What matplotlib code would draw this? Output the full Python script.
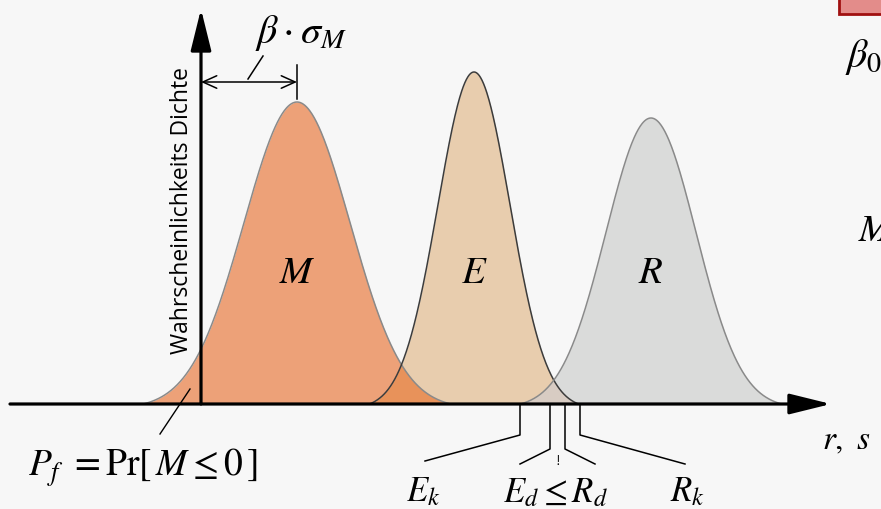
import numpy as np
import matplotlib
matplotlib.use("Agg")
import matplotlib.pyplot as plt
from matplotlib.patches import FancyArrowPatch, Rectangle

plt.rcParams["mathtext.fontset"] = "stix"

# ------------------------
# Distributions (x: r/s axis, y: density, arbitrary units)
# ------------------------
dist_names = ["M", "E", "R"]
dist_means = [96, 273, 450]
dist_sigmas = [53, 36, 45]
dist_peaks = [302, 332, 286]
dist_fill = ["#EDA178", "#E8CDAE", "#DADBDA"]
dist_edge = ["#8A8A8A", "#3C3C3C", "#8A8A8A"]

# characteristic / design values on the r,s axis
val_names = [r"$E_k$", r"$E_d$", r"$R_d$", r"$R_k$"]
val_x = [319, 349, 364, 379]

BG = "#F7F7F7"
SPAN = 2.9  # tails are brought down to zero at this many sigmas


def density(x, mu, sig, peak):
    g = np.exp(-0.5 * ((x - mu) / sig) ** 2)
    g0 = np.exp(-0.5 * SPAN ** 2)
    y = peak * (g - g0) / (1 - g0)
    return np.clip(y, 0, None)


fig = plt.figure(figsize=(8.81, 5.10), dpi=100, facecolor=BG)
ax = fig.add_axes([0, 0, 1, 1])
ax.set_facecolor(BG)
ax.set_xlim(-201, 680)
ax.set_ylim(-105, 405)
ax.axis("off")

curves = []
for name, mu, sig, pk, fc in zip(dist_names, dist_means, dist_sigmas, dist_peaks, dist_fill):
    x = np.linspace(mu - SPAN * sig, mu + SPAN * sig, 400)
    y = density(x, mu, sig, pk)
    ax.fill_between(x, 0, y, color=fc, lw=0, zorder=1)
    curves.append((x, y))

# overlapping tails get a darker tint
xs = np.linspace(-200, 680, 3000)
dens = [density(xs, m, s, p) for m, s, p in zip(dist_means, dist_sigmas, dist_peaks)]
ax.fill_between(xs, 0, np.minimum(dens[0], dens[1]), color="#E8925A", lw=0, zorder=2)
ax.fill_between(xs, 0, np.minimum(dens[1], dens[2]), color="#D8CCC3", lw=0, zorder=2)

for (x, y), ec in zip(curves, dist_edge):
    ax.plot(x, y, color=ec, lw=1.1, zorder=3)

for name, mu in zip(dist_names, dist_means):
    ax.text(mu, 133, rf"${name}$", fontsize=28, ha="center", va="center", zorder=4)

# axes arrows
arrow_kw = dict(arrowstyle="-|>,head_length=1.7,head_width=0.42", color="black",
                lw=2.3, mutation_scale=15, shrinkA=0, shrinkB=0, zorder=5)
ax.add_patch(FancyArrowPatch((-191, 0), (630, 0), **arrow_kw))
ax.add_patch(FancyArrowPatch((0, 0), (0, 395), **arrow_kw))

ax.text(-19, 194, "Wahrscheinlichkeits Dichte", rotation=90, ha="center", va="center",
        fontsize=16.5, family="Open Sans", zorder=5)

# beta * sigma_M dimension
mu_m = dist_means[0]
ax.add_patch(FancyArrowPatch((0, 322), (mu_m, 322),
                             arrowstyle="<->,head_length=1.0,head_width=0.45",
                             mutation_scale=10, color="black", lw=1.1,
                             shrinkA=0, shrinkB=0, zorder=5))
ax.plot([mu_m, mu_m], [305, 339], color="black", lw=1.1, zorder=5)
ax.plot([47, 62], [325, 348], color="black", lw=1.1, zorder=5)
ax.text(100, 372, r"$\beta \cdot \sigma_M$", fontsize=29, ha="center", va="center")

# failure probability
ax.plot([-41, -11], [-30, 15], color="black", lw=1.0, zorder=5)
ax.text(-173, -63, r"$P_f\ = \mathrm{Pr}\left[\,M \leq 0\,\right]$", fontsize=27,
        ha="left", va="center")

# leaders to characteristic and design values
bend = [-31, -45, -45, -31]
tips = [224, 319, 394, 484]
tip_y = [-57, -60, -60, -60]
for vx, by, tx, ty in zip(val_x, bend, tips, tip_y):
    ax.plot([vx, vx, tx], [0, by, ty], color="black", lw=1.1, zorder=5)

ax.text(222, -86, r"$E_k$", fontsize=25, ha="center", va="center")
ax.text(354, -87, r"$E_d \leq R_d$", fontsize=25, ha="center", va="center")
ax.text(357, -57, "!", fontsize=10, ha="center", va="center", family="Liberation Serif")
ax.text(486, -86, r"$R_k$", fontsize=25, ha="center", va="center")
ax.text(621, -35, r"$r,\ s$", fontsize=24, ha="left", va="center")

# right-hand margin (cut off)
ax.add_patch(Rectangle((638, 390), 60, 25, facecolor="#E38C8A", edgecolor="#A01010",
                       lw=2, zorder=5))
ax.text(644, 348, r"$\beta_0$", fontsize=29, ha="left", va="center")
ax.text(657, 175, r"$M$", fontsize=28, ha="left", va="center")

fig.savefig("out.png", dpi=100, facecolor=BG)
